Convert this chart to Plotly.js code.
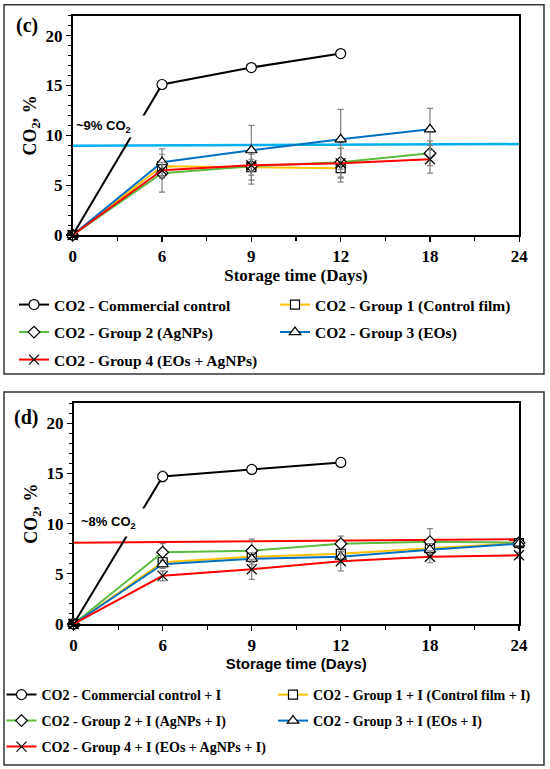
<!DOCTYPE html>
<html>
<head>
<meta charset="utf-8">
<script src="https://cdn.plot.ly/plotly-3.0.1.min.js"></script>
<style>
html,body{margin:0;padding:0;background:#fff;}
#chart{width:550px;height:769px;}
</style>
</head>
<body>
<div id="chart"></div>
<script>
// Storage days (equally spaced categories)
const days = ['0', '6', '9', '12', '18', '24'];

// Panel (c)
const cCommercial = [0, 15.1, 16.8, 18.2, null, null];
const cGroup1 = [0, 6.9, 6.8, 6.7, null, null];
const cGroup2 = [0, 6.2, 6.9, 7.3, 8.2, null];
const cGroup3 = [0, 7.3, 8.5, 9.6, 10.6, null];
const cGroup4 = [0, 6.5, 7.0, 7.2, 7.6, null];
const cErr1 = [0, 0.5, 1.3, 0.9, null, null];
const cErr2 = [0, 1.9, 1.8, 2.0, 1.25, null];
const cErr3 = [0, 1.35, 2.5, 3.0, 2.1, null];
const cErr4 = [0, 0.8, 0.6, 1.5, 1.4, null];
const cRefLine = [8.95, 9.12];

// Panel (d)
const dCommercial = [0, 14.7, 15.4, 16.1, null, null];
const dGroup1 = [0, 6.15, 6.7, 7.0, 7.55, 8.05];
const dGroup2 = [0, 7.15, 7.3, 8.0, 8.2, 8.1];
const dGroup3 = [0, 5.95, 6.5, 6.7, 7.4, 8.0];
const dGroup4 = [0, 4.8, 5.45, 6.25, 6.7, 6.85];
const dErrC = [0, 0.55, 0.2, 0.2, null, null];
const dErr1 = [0, 0.4, 0.6, 0.6, 0.8, 0.3];
const dErr2 = [0, 0.85, 1.15, 0.75, 1.3, 0.3];
const dErr3 = [0, 0.4, 0.6, 0.5, 0.6, 0.3];
const dErr4 = [0, 0.5, 1.0, 0.95, 0.6, 0.3];
const dRefLine = [8.1, 8.45];

const namesC = ['CO2 - Commercial control', 'CO2 - Group 1 (Control film)', 'CO2 - Group 2 (AgNPs)', 'CO2 - Group 3 (EOs)', 'CO2 - Group 4 (EOs + AgNPs)'];
const namesD = ['CO2 - Commercial control + I', 'CO2 - Group 1 + I (Control film + I)', 'CO2 - Group 2 + I (AgNPs + I)', 'CO2 - Group 3 + I (EOs + I)', 'CO2 - Group 4 + I (EOs + AgNPs + I)'];

const colors = ['#000000', '#FFC000', '#5DBB3F', '#0070C0', '#FF0000'];
const symbols = ['circle', 'square', 'diamond', 'triangle-up', 'x-thin'];
const sizes = [10, 9, 9, 10, 10];

const xIdx = days.map((d, i) => i);
const serif = 'Liberation Serif';
const sans = 'Liberation Sans';

function series(y, err, k, name, xa, ya, leg) {
  const t = {
    x: xIdx, y: y, name: name, type: 'scatter', mode: 'lines+markers',
    xaxis: xa, yaxis: ya, legend: leg, cliponaxis: false,
    line: {color: colors[k], width: 2},
    marker: {symbol: symbols[k], size: sizes[k], color: '#ffffff',
             line: {color: '#000000', width: 1.2}}
  };
  if (err) {
    t.error_y = {type: 'data', array: err, visible: true, color: '#808080', thickness: 1.2, width: 3};
  }
  return t;
}

const data = [
  {x: [0, 5], y: cRefLine, type: 'scatter', mode: 'lines', xaxis: 'x', yaxis: 'y', showlegend: false,
   line: {color: '#00B0F0', width: 2.5}, hoverinfo: 'skip'},
  series(cCommercial, null, 0, namesC[0], 'x', 'y', 'legend'),
  series(cGroup1, cErr1, 1, namesC[1], 'x', 'y', 'legend2'),
  series(cGroup2, cErr2, 2, namesC[2], 'x', 'y', 'legend3'),
  series(cGroup3, cErr3, 3, namesC[3], 'x', 'y', 'legend4'),
  series(cGroup4, cErr4, 4, namesC[4], 'x', 'y', 'legend5'),
  {x: [0, 5], y: dRefLine, type: 'scatter', mode: 'lines', xaxis: 'x2', yaxis: 'y2', showlegend: false,
   line: {color: '#FF0000', width: 2}, hoverinfo: 'skip'},
  series(dCommercial, dErrC, 0, namesD[0], 'x2', 'y2', 'legend6'),
  series(dGroup1, dErr1, 1, namesD[1], 'x2', 'y2', 'legend7'),
  series(dGroup2, dErr2, 2, namesD[2], 'x2', 'y2', 'legend8'),
  series(dGroup3, dErr3, 3, namesD[3], 'x2', 'y2', 'legend9'),
  series(dGroup4, dErr4, 4, namesD[4], 'x2', 'y2', 'legend10')
];

function xAxis(dom, anchor, titleFont) {
  return {
    domain: dom, anchor: anchor, range: [0, 5], tickmode: 'array', tickvals: xIdx, ticktext: days,
    showline: true, mirror: true, linecolor: '#000', linewidth: 1.8, showgrid: false, zeroline: false,
    ticks: 'outside', ticklen: 5, tickwidth: 1.2, tickcolor: '#000',
    minor: {dtick: 0.5, tick0: 0, ticks: 'outside', ticklen: 4, tickwidth: 1.2, tickcolor: '#000'},
    tickfont: {family: serif, size: 17, color: '#000', weight: 'bold'},
    title: {text: 'Storage time (Days)', font: titleFont, standoff: 3},
    fixedrange: true
  };
}
function yAxis(dom, anchor) {
  return {
    domain: dom, anchor: anchor, range: [0, 22], dtick: 5, tick0: 0,
    showline: true, mirror: true, linecolor: '#000', linewidth: 1.8, showgrid: false, zeroline: false,
    ticks: 'outside', ticklen: 5, tickwidth: 1.2, tickcolor: '#000',
    minor: {dtick: 1, ticks: 'outside', ticklen: 3, tickwidth: 1, tickcolor: '#000'},
    tickfont: {family: serif, size: 17, color: '#000', weight: 'bold'},
    title: {text: 'CO<sub>2</sub>, %', font: {family: serif, size: 18, color: '#000', weight: 'bold'}, standoff: 4},
    fixedrange: true
  };
}

function leg(xpx, ypx, size) {
  return {
    orientation: 'h', xanchor: 'left', yanchor: 'middle', bgcolor: 'rgba(0,0,0,0)', borderwidth: 0,
    x: xpx / 550, y: 1 - ypx / 769, itemclick: false, itemdoubleclick: false,
    font: {family: serif, size: size, color: '#000', weight: 'bold'}
  };
}

const layout = {
  width: 550, height: 769,
  margin: {l: 0, r: 0, t: 0, b: 0},
  paper_bgcolor: '#ffffff', plot_bgcolor: '#ffffff',
  showlegend: true,
  xaxis: xAxis([0.1322, 0.9442], 'y', {family: serif, size: 17, color: '#000', weight: 'bold'}),
  yaxis: yAxis([0.6944, 0.9796], 'x'),
  xaxis2: xAxis([0.1338, 0.9436], 'y2', {family: sans, size: 15, color: '#000', weight: 'bold'}),
  yaxis2: yAxis([0.1886, 0.4756], 'x2'),
  legend: leg(14, 305, 15.5),
  legend2: leg(275, 305, 15.5),
  legend3: leg(14, 332.5, 15.5),
  legend4: leg(275, 332.5, 15.5),
  legend5: leg(14, 360, 15.5),
  legend6: leg(1.5, 695, 14),
  legend7: leg(273, 695, 14),
  legend8: leg(1.5, 721, 14),
  legend9: leg(273, 721, 14),
  legend10: leg(1.5, 747, 14),
  shapes: [
    {type: 'rect', xref: 'paper', yref: 'paper', x0: 4 / 550, x1: 544 / 550, y0: 1 - 374 / 769, y1: 1 - 4.7 / 769,
     line: {color: '#333', width: 1.5}, fillcolor: 'rgba(0,0,0,0)', layer: 'below'},
    {type: 'rect', xref: 'paper', yref: 'paper', x0: 4 / 550, x1: 544 / 550, y0: 1 - 765 / 769, y1: 1 - 392 / 769,
     line: {color: '#333', width: 1.5}, fillcolor: 'rgba(0,0,0,0)', layer: 'below'}
  ],
  annotations: [
    {text: '(c)', xref: 'paper', yref: 'paper', x: 14 / 550, y: 1 - 26 / 769, xanchor: 'left', yanchor: 'middle',
     showarrow: false, font: {family: serif, size: 20, color: '#000', weight: 'bold'}},
    {text: '(d)', xref: 'paper', yref: 'paper', x: 12 / 550, y: 1 - 417 / 769, xanchor: 'left', yanchor: 'middle',
     showarrow: false, font: {family: serif, size: 20, color: '#000', weight: 'bold'}},
    {text: '~9% CO<sub>2</sub>', xref: 'paper', yref: 'paper', x: 75 / 550, y: 1 - 115 / 769, xanchor: 'left', yanchor: 'top',
     width: 70, height: 21, align: 'left', valign: 'middle', bgcolor: '#ffffff', borderpad: 0,
     showarrow: false, font: {family: sans, size: 13, color: '#000', weight: 'bold'}},
    {text: '~8% CO<sub>2</sub>', xref: 'paper', yref: 'paper', x: 80 / 550, y: 1 - 508 / 769, xanchor: 'left', yanchor: 'top',
     width: 66, height: 27, align: 'left', valign: 'middle', bgcolor: '#ffffff', borderpad: 0,
     showarrow: false, font: {family: sans, size: 13, color: '#000', weight: 'bold'}}
  ]
};

Plotly.newPlot('chart', data, layout, {displayModeBar: false, staticPlot: true});
</script>
</body>
</html>
